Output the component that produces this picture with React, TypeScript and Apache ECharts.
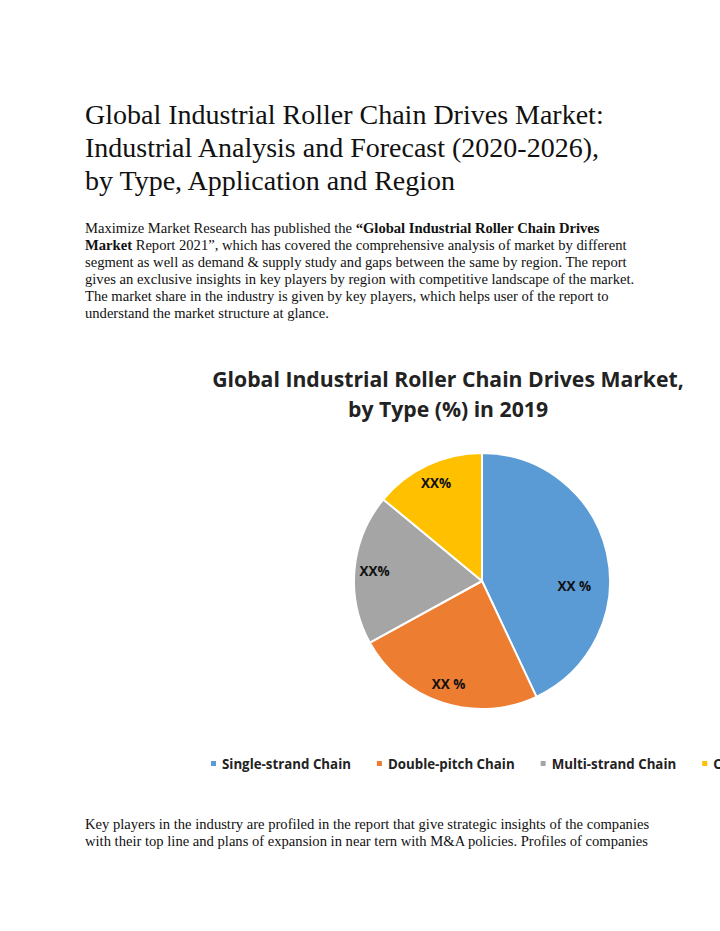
import React, { useEffect, useRef } from "react";
import * as echarts from "echarts";

const categories = ["Single-strand Chain", "Double-pitch Chain", "Multi-strand Chain", "Others"];
const shares = [43, 24, 19, 14];
const sliceLabels = ["XX %", "XX %", "XX%", "XX%"];
const colors = ["#5B9BD5", "#ED7D31", "#A5A5A5", "#FFC000"];

const headingLines = [
  "Global Industrial Roller Chain Drives Market:",
  "Industrial Analysis and Forecast (2020-2026),",
  "by Type, Application and Region",
];
const bodyLines = [
  "Maximize Market Research has published the {b|“Global Industrial Roller Chain Drives}",
  "{b|Market} Report 2021”, which has covered the comprehensive analysis of market by different",
  "segment as well as demand & supply study and gaps between the same by region. The report",
  "gives an exclusive insights in key players by region with competitive landscape of the market.",
  "The market share in the industry is given by key players, which helps user of the report to",
  "understand the market structure at glance.",
];
const footLines = [
  "Key players in the industry are profiled in the report that give strategic insights of the companies",
  "with their top line and plans of expansion in near tern with M&A policies. Profiles of companies",
];
const chartTitle = ["Global Industrial Roller Chain Drives Market,", "by Type (%) in 2019"];

export default function App() {
  const ref = useRef<HTMLDivElement>(null);
  useEffect(() => {
    if (!ref.current) return;
    const chart = echarts.init(ref.current, null, { renderer: "svg" });
    const serif = "'Liberation Serif', 'Times New Roman', serif";
    const sans = "'Open Sans', Lato, sans-serif";
    const graphics: any[] = [];
    headingLines.forEach((t, i) => {
      graphics.push({
        type: "text",
        style: { text: t, x: 85, y: 114 + i * 33, verticalAlign: "middle", font: `28px ${serif}`, fill: "#111" },
      });
    });
    bodyLines.forEach((t, i) => {
      graphics.push({
        type: "text",
        style: {
          text: t,
          x: 85,
          y: 228 + i * 16.9,
          verticalAlign: "middle",
          font: `14.6px ${serif}`,
          fill: "#111",
          rich: { b: { fontWeight: "bold", fontSize: 14.6, fontFamily: serif, fill: "#111" } },
        },
      });
    });
    footLines.forEach((t, i) => {
      graphics.push({
        type: "text",
        style: { text: t, x: 85, y: 824 + i * 16.9, verticalAlign: "middle", font: `14.6px ${serif}`, fill: "#111" },
      });
    });
    chartTitle.forEach((t, i) => {
      graphics.push({
        type: "text",
        style: {
          text: t,
          x: 448,
          y: 378 + i * 30,
          align: "center",
          verticalAlign: "middle",
          font: `bold 21.2px ${sans}`,
          fill: "#222",
        },
      });
    });

    const data = categories.map((c, i) => ({ name: c, value: shares[i], itemStyle: { color: colors[i] } }));
    const labelData = categories.map((c, i) => ({
      name: c,
      value: shares[i],
      label: i === 0 ? { formatter: sliceLabels[i], offset: [-13, 29] } : { formatter: sliceLabels[i] },
    }));

    chart.setOption({
      animation: false,
      graphic: graphics,
      legend: {
        left: 204,
        top: 752,
        width: 1000,
        icon: "rect",
        itemWidth: 7,
        itemHeight: 7,
        itemGap: 24,
        selectedMode: false,
        data: categories,
        textStyle: { fontFamily: sans, fontWeight: "bold", fontSize: 13.3, color: "#222" },
      },
      series: [
        {
          type: "pie",
          center: [482, 581],
          radius: 128,
          startAngle: 90,
          clockwise: true,
          silent: true,
          label: { show: false },
          labelLine: { show: false },
          itemStyle: { borderColor: "#fff", borderWidth: 2 },
          data,
        },
        {
          type: "pie",
          center: [482, 581],
          radius: [82, 128],
          startAngle: 90,
          clockwise: true,
          silent: true,
          itemStyle: { color: "rgba(0,0,0,0)", borderWidth: 0 },
          label: {
            show: true,
            position: "inside",
            fontFamily: sans,
            fontWeight: "bold",
            fontSize: 13.5,
            color: "#111",
          },
          labelLine: { show: false },
          data: labelData,
        },
      ],
    });
    return () => chart.dispose();
  }, []);
  return (
    <div
      ref={ref}
      style={{ position: "absolute", left: 0, top: 0, width: 720, height: 931, background: "#fff" }}
    />
  );
}
